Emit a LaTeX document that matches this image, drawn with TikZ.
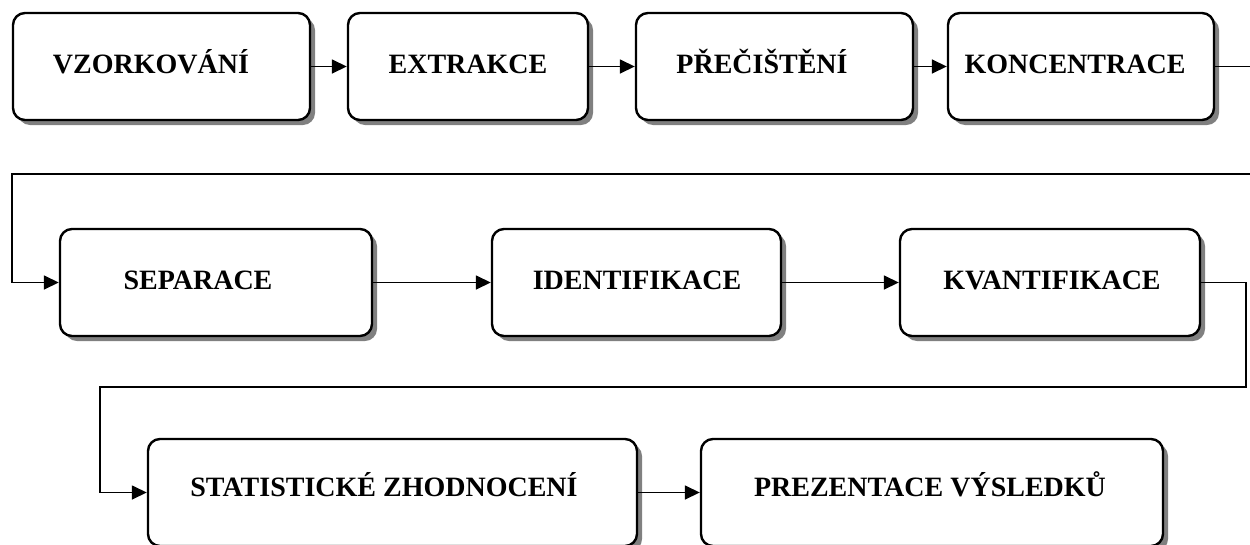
\documentclass[tikz,border=0pt]{standalone}
\usepackage{fontspec}
\setmainfont{Liberation Serif}
\usetikzlibrary{shadows,arrows.meta}
\tikzset{
  stepbox/.style={draw=black, line width=2.4pt, rounded corners=12pt, fill=white,
    minimum height=107pt, inner sep=0pt,
    drop shadow={shadow xshift=5pt, shadow yshift=-5pt, fill=black!50, opacity=1}},
  lbl/.style={anchor=base, inner sep=0pt, font=\fontsize{28}{32}\selectfont\bfseries},
  conn/.style={line width=1.6pt, -{Triangle[length=15pt,width=14pt]}},
}
\begin{document}
\begin{tikzpicture}[x=1pt,y=-1pt]
\clip (0,0) rectangle (1250,544);
\fill[white] (0,0) rectangle (1250,544);
% row 1
\node[stepbox, minimum width=297pt] (b1) at (161.5,66.5) {};
\node[stepbox, minimum width=240pt] (b2) at (468,66.5) {};
\node[stepbox, minimum width=277pt] (b3) at (774.5,66.5) {};
\node[stepbox, minimum width=266pt] (b4) at (1081,66.5) {};
% row 2
\node[stepbox, minimum width=312pt] (b5) at (216,282.5) {};
\node[stepbox, minimum width=289pt] (b6) at (636.5,282.5) {};
\node[stepbox, minimum width=300pt] (b7) at (1050,282.5) {};
% row 3
\node[stepbox, minimum width=489pt] (b8) at (392.5,492.5) {};
\node[stepbox, minimum width=462pt] (b9) at (932,492.5) {};
% labels
\node[lbl] (t1) at (151,73) {VZORKOVÁNÍ};
\node[lbl] (t2) at (468,73) {EXTRAKCE};
\node[lbl] (t3) at (762,73) {PŘEČIŠTĚNÍ};
\node[lbl] (t4) at (1075,73) {KONCENTRACE};
\node[lbl] (t5) at (198,289) {SEPARACE};
\node[lbl] (t6) at (637,289) {IDENTIFIKACE};
\node[lbl] (t7) at (1052,289) {KVANTIFIKACE};
\node[lbl] (t8) at (384,496) {STATISTICKÉ ZHODNOCENÍ};
\node[lbl] (t9) at (930,496) {PREZENTACE VÝSLEDKŮ};
% connectors
\coordinate (c1) at (1258,174);
\coordinate (c2) at (12,174);
\coordinate (c3) at (1246,387);
\coordinate (c4) at (100,387);
\draw[conn] (b1.east) -- (b2.west);
\draw[conn] (b2.east) -- (b3.west);
\draw[conn] (b3.east) -- (b4.west);
\draw[conn] (b4.east) -- (b4.east -| c1) -- (c1) -- (c2) -- (c2 |- b5.west) -- (b5.west);
\draw[conn] (b5.east) -- (b6.west);
\draw[conn] (b6.east) -- (b7.west);
\draw[conn] (b7.east) -- (b7.east -| c3) -- (c3) -- (c4) -- (c4 |- b8.west) -- (b8.west);
\draw[conn] (b8.east) -- (b9.west);
\end{tikzpicture}
\end{document}
